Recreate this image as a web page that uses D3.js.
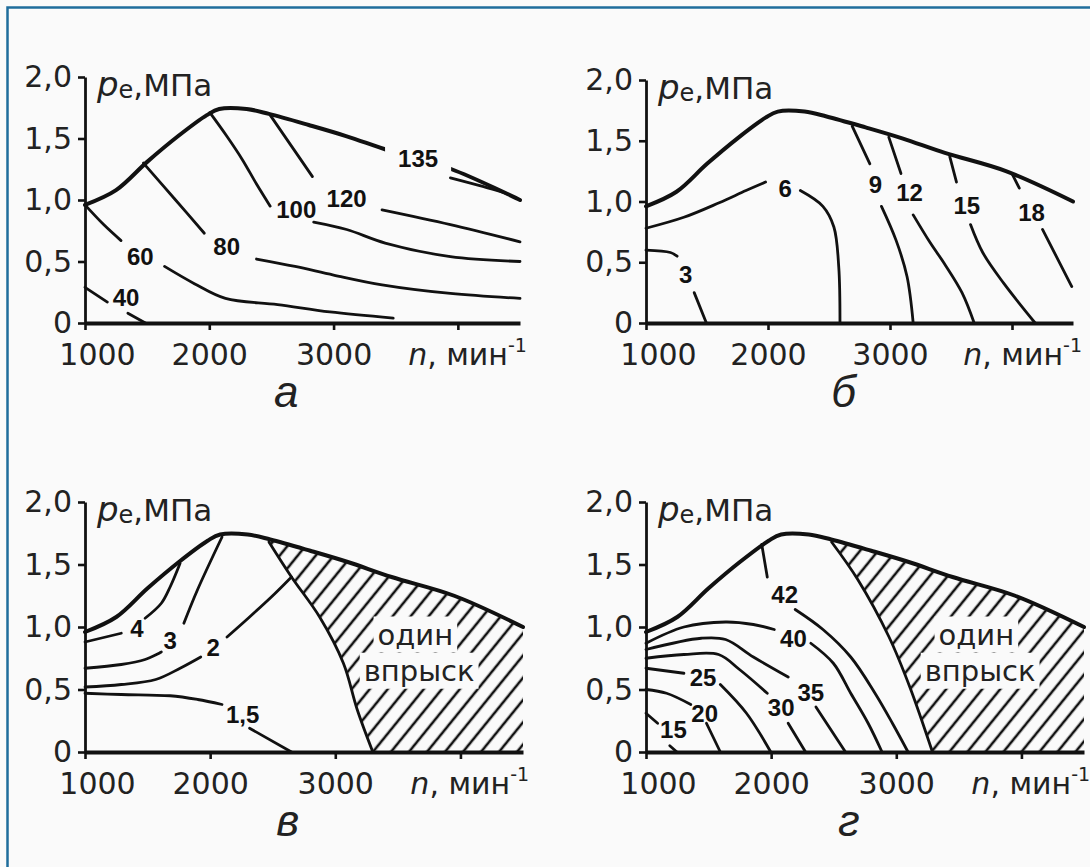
<!DOCTYPE html>
<html lang="ru">
<head>
<meta charset="UTF-8">
<title>Поля показателей по нагрузочной характеристике</title>
<script src="https://d3js.org/d3.v7.min.js"></script>
<style>
  body { margin: 0; background: #fafafa; }
  svg { display: block; }
  .tick text { font-family: "DejaVu Sans", sans-serif; font-size: 30px; fill: #222; }
  .tick line { stroke: #111; stroke-width: 2.6px; }
  .clabel { font-family: "Liberation Sans", Arial, sans-serif; font-weight: bold; font-size: 24px; fill: #111; }
  .contour { fill: none; stroke: #111; stroke-width: 2.8px; stroke-linecap: round; stroke-linejoin: round; }
  .full { fill: none; stroke: #111; stroke-width: 4px; stroke-linecap: round; stroke-linejoin: round; }
  .axlab { font-family: "DejaVu Sans", sans-serif; font-size: 30px; fill: #222; }
  .zone { font-family: "DejaVu Sans", sans-serif; font-size: 29px; fill: #222; }
  .letter { font-family: "Liberation Sans", Arial, sans-serif; font-style: italic; font-size: 44px; fill: #222; }
</style>
</head>
<body>
<svg id="chart" width="1090" height="867"></svg>
<script>
// оси
const nDomain = [1000, 4500];
const peDomain = [0, 2];
const xTicks = [1000, 2000, 3000, 4000];
const xTickLabels = ["1000", "2000", "3000", ""];
const yTicks = [0, 0.5, 1, 1.5, 2];
const yTickLabels = ["0", "0,5", "1,0", "1,5", "2,0"];

// внешняя скоростная характеристика (одинакова на всех полях)
const fullLoad = [[1000,0.96],[1250,1.08],[1500,1.31],[1750,1.52],[1980,1.69],[2080,1.74],[2300,1.74],
  [2480,1.70],[2800,1.61],[3100,1.52],[3450,1.40],[3950,1.25],[4500,1.00]];

// а — изолинии
const contoursA = [
  { v: "40",  at: [1330,0.21], segs: [[[1000,0.29],[1180,0.17]], [[1345,0.08],[1486,0]]] },
  { v: "60",  at: [1445,0.54], segs: [[[1000,0.96],[1150,0.80],[1290,0.67]],
      [[1640,0.46],[1880,0.32],[2130,0.20],[2550,0.15],[2970,0.09],[3480,0.04]]] },
  { v: "80",  at: [2140,0.62], segs: [[[1470,1.30],[1720,1.01],[1960,0.73]],
      [[2380,0.52],[2690,0.46],[3000,0.39],[3390,0.31],[3940,0.24],[4500,0.20]]] },
  { v: "100", at: [2700,0.92], segs: [[[2005,1.71],[2140,1.52],[2265,1.33],[2380,1.13],[2490,0.95]],
      [[2840,0.82],[3105,0.76],[3415,0.65],[3940,0.54],[4500,0.50]]] },
  { v: "120", at: [3105,1.01], segs: [[[2490,1.69],[2660,1.44],[2830,1.19]],
      [[3390,0.92],[3940,0.80],[4500,0.66]]] },
  { v: "135", at: [3680,1.34], segs: [[[3940,1.18],[4200,1.11],[4400,1.05]]] }
];

// б
const contoursB = [
  { v: "3",  at: [1325,0.40], segs: [[[1000,0.60],[1200,0.58],[1255,0.55]], [[1395,0.25],[1495,0]]] },
  { v: "6",  at: [2140,1.11], segs: [[[1000,0.78],[1310,0.87],[1600,0.99],[1820,1.09],[1980,1.16]],
      [[2265,1.09],[2450,0.96],[2540,0.79],[2580,0.46],[2590,0]]] },
  { v: "9",  at: [2880,1.14], segs: [[[2690,1.62],[2835,1.31]], [[2930,0.96],[3050,0.68],[3140,0.38],[3190,0]]] },
  { v: "12", at: [3160,1.07], segs: [[[2990,1.53],[3090,1.23]],
      [[3190,0.89],[3330,0.66],[3445,0.49],[3590,0.25],[3690,0]]] },
  { v: "15", at: [3630,0.97], segs: [[[3490,1.37],[3545,1.16]], [[3660,0.81],[3760,0.58],[3930,0.33],[4190,0]]] },
  { v: "18", at: [4160,0.91], segs: [[[4000,1.23],[4060,1.11]], [[4250,0.77],[4490,0.30]]] }
];

// в
const contoursC = [
  { v: "4",   at: [1415,0.99], segs: [[[1000,0.88],[1290,0.95]], [[1480,1.07],[1610,1.19],[1680,1.32],[1760,1.51]]] },
  { v: "3",   at: [1680,0.89], segs: [[[1000,0.67],[1290,0.70],[1480,0.74],[1610,0.80]],
      [[1790,1.03],[1900,1.30],[2095,1.72]]] },
  { v: "2",   at: [2025,0.84], segs: [[[1000,0.52],[1290,0.54],[1565,0.58],[1760,0.67],[1925,0.76]],
      [[2135,0.92],[2315,1.08],[2510,1.26],[2650,1.40]]] },
  { v: "1,5", at: [2260,0.30], segs: [[[1000,0.47],[1290,0.46],[1680,0.45],[1900,0.42],[2095,0.38]],
      [[2315,0.19],[2650,0]]] }
];
const boundaryC = [[2470,1.68],[2650,1.40],[2875,1.08],[3065,0.71],[3175,0.34],[3300,0]];

// г
const contoursD = [
  { v: "15", at: [1219,0.18], segs: [[[1000,0.31],[1093,0.23]], [[1190,0.05],[1247,0]]] },
  { v: "20", at: [1469,0.31], segs: [[[1000,0.50],[1164,0.47],[1358,0.38]], [[1483,0.23],[1594,0]]] },
  { v: "25", at: [1456,0.60], segs: [[[1000,0.67],[1303,0.63]], [[1594,0.54],[1803,0.31],[1997,0]]] },
  { v: "30", at: [2080,0.36], segs: [[[1000,0.75],[1303,0.78],[1580,0.78],[1747,0.66],[1969,0.47]],
      [[2136,0.23],[2275,0]]] },
  { v: "35", at: [2317,0.48], segs: [[[1000,0.82],[1442,0.91],[1636,0.90],[1858,0.76],[2136,0.60]],
      [[2358,0.36],[2594,0]]] },
  { v: "40", at: [2178,0.91], segs: [[[1000,0.87],[1303,1.00],[1636,1.04],[1858,1.02],[2025,0.98]],
      [[2317,0.87],[2497,0.71],[2636,0.47],[2775,0.23],[2886,0]]] },
  { v: "42", at: [2108,1.26], segs: [[[1925,1.66],[1969,1.40]],
      [[2192,1.14],[2414,0.98],[2636,0.76],[2830,0.47],[2969,0.23],[3094,0]]] }
];
const boundaryD = [[2483,1.68],[2692,1.38],[2942,0.92],[3108,0.52],[3289,0]];

const zoneText = ["один", "впрыск"];
const zonePos = [[3640,0.94],[3670,0.65]];
const letters = ["а", "б", "в", "г"];

// расположение полей на странице
const panels = [
  { x: [85, 520],  y: [323, 77],  contours: contoursA },
  { x: [646, 1073], y: [323, 80], contours: contoursB },
  { x: [85, 523],  y: [752, 502], contours: contoursC, boundary: boundaryC },
  { x: [646, 1084], y: [752, 502], contours: contoursD, boundary: boundaryD }
];
const knock = { "135": 13 };

const svg = d3.select("#chart");
svg.append("rect").attr("width", 1090).attr("height", 867).attr("fill", "#fafafa");
svg.append("path").attr("d", "M7.5,867V7.5H1090").attr("fill", "none")
  .attr("stroke", "#1f6d9c").attr("stroke-width", 2.5);

const defs = svg.append("defs");
defs.append("pattern").attr("id", "hatch").attr("patternUnits", "userSpaceOnUse")
  .attr("width", 12).attr("height", 14).attr("patternTransform", "rotate(-51)")
  .append("line").attr("x1", -2).attr("x2", 14).attr("y1", 7).attr("y2", 7)
  .attr("stroke", "#111").attr("stroke-width", 2.6);

function bgRect(g, t, padX, padY) {
  const b = t.node().getBBox();
  g.insert("rect", () => t.node())
    .attr("x", b.x - padX).attr("y", b.y - padY)
    .attr("width", b.width + 2 * padX).attr("height", b.height + 2 * padY)
    .attr("fill", "#fafafa");
}

panels.forEach((p, i) => {
  const x = d3.scaleLinear().domain(nDomain).range(p.x);
  const y = d3.scaleLinear().domain(peDomain).range(p.y);
  const line = d3.line().x(d => x(d[0])).y(d => y(d[1])).curve(d3.curveCatmullRom.alpha(0.5));
  const g = svg.append("g");

  // зона одного впрыска
  if (p.boundary) {
    const area = d3.area().x(d => x(d[0])).y0(y(0)).y1(d => y(d[1]))
      .curve(d3.curveCatmullRom.alpha(0.5));
    defs.append("clipPath").attr("id", "under" + i).append("path").attr("d", area(fullLoad));
    const b = p.boundary;
    const rightD = line(b) + `L${x(4700)},${y(0)}L${x(4700)},${y(2.3)}L${x(b[0][0])},${y(2.3)}Z`;
    defs.append("clipPath").attr("id", "right" + i).append("path").attr("d", rightD);
    g.append("g").attr("clip-path", `url(#under${i})`)
      .append("rect").attr("x", x(1000)).attr("y", y(2))
      .attr("width", x(4500) - x(1000)).attr("height", y(0) - y(2))
      .attr("fill", "url(#hatch)").attr("clip-path", `url(#right${i})`);
    g.append("path").attr("class", "contour").attr("d", line(b));
  }

  p.contours.forEach(c => {
    c.segs.forEach(s => g.append("path").attr("class", "contour").attr("d", line(s)));
  });
  g.append("path").attr("class", "full").attr("d", line(fullLoad));

  // оси
  const gx = g.append("g").attr("transform", `translate(0,${y(0)})`)
    .call(d3.axisBottom(x).tickValues(xTicks).tickSize(7).tickSizeOuter(0)
      .tickPadding(14).tickFormat((d, k) => xTickLabels[k]));
  gx.select(".domain").attr("stroke", "#111").attr("stroke-width", 3.8);
  gx.selectAll(".tick text").filter(d => d === 1000).attr("dx", 12);

  const gy = g.append("g").attr("transform", `translate(${x(1000)},0)`)
    .call(d3.axisLeft(y).tickValues(yTicks).tickSize(7).tickSizeOuter(0)
      .tickPadding(6).tickFormat((d, k) => yTickLabels[k]));
  gy.select(".domain").attr("stroke", "#111").attr("stroke-width", 2.8);

  // подписи осей
  const yl = g.append("text").attr("class", "axlab").attr("x", x(1000) + 12).attr("y", y(2) + 19);
  yl.append("tspan").attr("font-style", "italic").attr("font-size", 34).text("p");
  yl.append("tspan").attr("font-size", 24).attr("dy", 2).text("e");
  yl.append("tspan").attr("dy", -2).attr("font-size", 31).text(",МПа");

  const xl = g.append("text").attr("class", "axlab").attr("x", x(3600)).attr("y", y(0) + 42);
  xl.append("tspan").attr("font-style", "italic").text("n");
  xl.append("tspan").text(", мин");
  xl.append("tspan").attr("font-size", 19).attr("dy", -13).text("-1");

  g.append("text").attr("class", "letter").attr("text-anchor", "middle")
    .attr("x", x(2620)).attr("y", y(0) + 84).text(letters[i]);

  // подписи изолиний
  p.contours.forEach(c => {
    const t = g.append("text").attr("class", "clabel").attr("text-anchor", "middle")
      .attr("dominant-baseline", "central").attr("x", x(c.at[0])).attr("y", y(c.at[1])).text(c.v);
    if (knock[c.v] && i === 0) bgRect(g, t, knock[c.v], 2);
  });

  if (p.boundary) {
    zoneText.forEach((s, k) => {
      const t = g.append("text").attr("class", "zone").attr("text-anchor", "middle")
        .attr("dominant-baseline", "central")
        .attr("x", x(zonePos[k][0])).attr("y", y(zonePos[k][1])).text(s);
      bgRect(g, t, 4, 1);
    });
  }
});
</script>
</body>
</html>
